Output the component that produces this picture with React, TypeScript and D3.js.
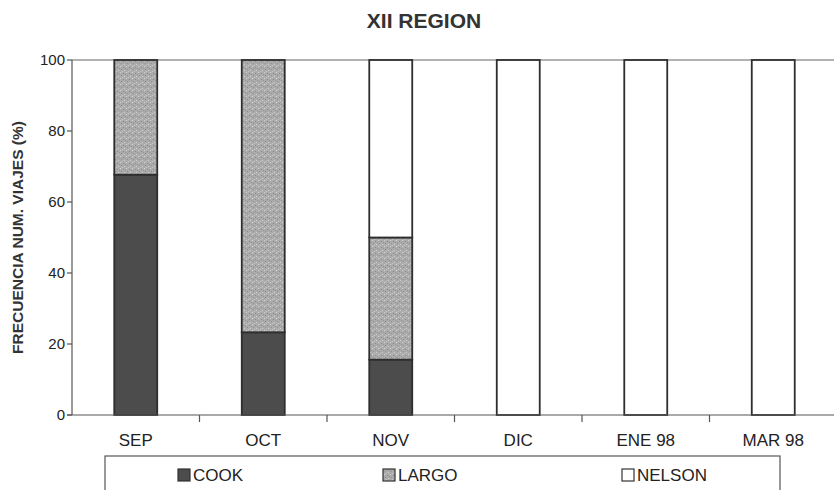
import { useEffect, useRef } from 'react'
import * as d3 from 'd3'

const W = 834, H = 490
const M = { top: 60, left: 72, right: -3, bottom: 75 }

const months = ['SEP', 'OCT', 'NOV', 'DIC', 'ENE 98', 'MAR 98']
const cook = [67.7, 23.3, 15.6, 0, 0, 0]
const largo = [32.3, 76.7, 34.4, 0, 0, 0]
const nelson = [0, 0, 50, 100, 100, 100]
const seriesKeys = ['COOK', 'LARGO', 'NELSON']
const yTicks = [0, 20, 40, 60, 80, 100]

const FONT = 'Arial, "Liberation Sans", Helvetica, sans-serif'
const fills: Record<string, string> = { COOK: '#4c4c4c', LARGO: 'url(#stipple)', NELSON: '#ffffff' }

export default function App() {
  const svgRef = useRef<SVGSVGElement>(null)

  useEffect(() => {
    const svg = d3.select(svgRef.current!)
    svg.selectAll('*').remove()

    const x0 = M.left, x1 = W - M.right
    const y0 = H - M.bottom, y1 = M.top

    // stippled grey fill for LARGO
    const defs = svg.append('defs')
    const pat = defs.append('pattern').attr('id', 'stipple')
      .attr('patternUnits', 'userSpaceOnUse').attr('width', 6).attr('height', 6)
    pat.append('rect').attr('width', 6).attr('height', 6).attr('fill', '#ababab')
    ;[[0, 0, '#d6d6d6'], [3, 1, '#8a8a8a'], [1, 3, '#8f8f8f'], [4, 4, '#d0d0d0'], [2, 5, '#c8c8c8'], [5, 2, '#959595']]
      .forEach(([px, py, c]) => pat.append('rect').attr('x', px).attr('y', py)
        .attr('width', 1).attr('height', 1).attr('fill', c as string))

    const x = d3.scaleBand<string>().domain(months).range([x0, x1])
      .paddingInner(0.663).paddingOuter(0.3315)
    const y = d3.scaleLinear().domain([0, 100]).range([y0, y1])

    // top border of plot area
    svg.append('line').attr('x1', x0).attr('x2', W).attr('y1', y(100)).attr('y2', y(100))
      .attr('stroke', '#666').attr('stroke-width', 1.2)

    // stacked bars
    const rows = months.map((m, i) => ({ month: m, COOK: cook[i], LARGO: largo[i], NELSON: nelson[i] }))
    const stack = d3.stack<any>().keys(seriesKeys)(rows)
    stack.forEach(s => {
      svg.append('g').selectAll('rect').data(s).join('rect')
        .attr('x', d => x(d.data.month)!)
        .attr('width', x.bandwidth())
        .attr('y', d => y(d[1]))
        .attr('height', d => y(d[0]) - y(d[1]))
        .attr('fill', fills[s.key])
        .attr('stroke', '#2e2e2e').attr('stroke-width', 1.8)
    })

    // axes
    svg.append('line').attr('x1', x0).attr('x2', x0).attr('y1', y(100)).attr('y2', y(0))
      .attr('stroke', '#555').attr('stroke-width', 1.2)
    svg.append('line').attr('x1', x0 - 5).attr('x2', W).attr('y1', y(0)).attr('y2', y(0))
      .attr('stroke', '#555').attr('stroke-width', 1.2)

    yTicks.forEach(t => {
      svg.append('line').attr('x1', x0 - 5).attr('x2', x0).attr('y1', y(t)).attr('y2', y(t))
        .attr('stroke', '#555').attr('stroke-width', 1.2)
      svg.append('text').attr('x', x0 - 7).attr('y', y(t)).attr('dy', '0.36em')
        .attr('text-anchor', 'end').attr('font-family', FONT).attr('font-size', 15)
        .attr('fill', '#222').text(t)
    })

    d3.range(1, months.length).forEach(k => {
      const tx = x0 + k * x.step()
      svg.append('line').attr('x1', tx).attr('x2', tx).attr('y1', y(0)).attr('y2', y(0) + 7)
        .attr('stroke', '#555').attr('stroke-width', 1.2)
    })

    months.forEach(m => {
      svg.append('text').attr('x', x(m)! + x.bandwidth() / 2).attr('y', 446)
        .attr('text-anchor', 'middle').attr('font-family', FONT).attr('font-size', 17)
        .attr('fill', '#222').text(m)
    })

    // titles
    svg.append('text').attr('x', 424).attr('y', 28).attr('text-anchor', 'middle')
      .attr('font-family', FONT).attr('font-size', 21).attr('font-weight', 'bold')
      .attr('fill', '#333').text('XII REGION')
    svg.append('text').attr('transform', `translate(23,${(y(0) + y(100)) / 2}) rotate(-90)`)
      .attr('text-anchor', 'middle').attr('font-family', FONT).attr('font-size', 15.5)
      .attr('font-weight', 'bold').attr('fill', '#333').text('FRECUENCIA NUM. VIAJES (%)')

    // legend
    svg.append('rect').attr('x', 105).attr('y', 456).attr('width', 675).attr('height', 50)
      .attr('fill', 'none').attr('stroke', '#555').attr('stroke-width', 1.2)
    const legendX = [178, 383, 622]
    seriesKeys.forEach((k, i) => {
      svg.append('rect').attr('x', legendX[i]).attr('y', 469).attr('width', 12).attr('height', 12)
        .attr('fill', fills[k]).attr('stroke', '#333').attr('stroke-width', 1.2)
      svg.append('text').attr('x', legendX[i] + 15).attr('y', 481)
        .attr('font-family', FONT).attr('font-size', 17).attr('fill', '#222').text(k)
    })
  }, [])

  return (
    <svg ref={svgRef} width={W} height={H}
      style={{ position: 'absolute', left: 0, top: 0, background: '#fff' }}
      viewBox={`0 0 ${W} ${H}`} />
  )
}
